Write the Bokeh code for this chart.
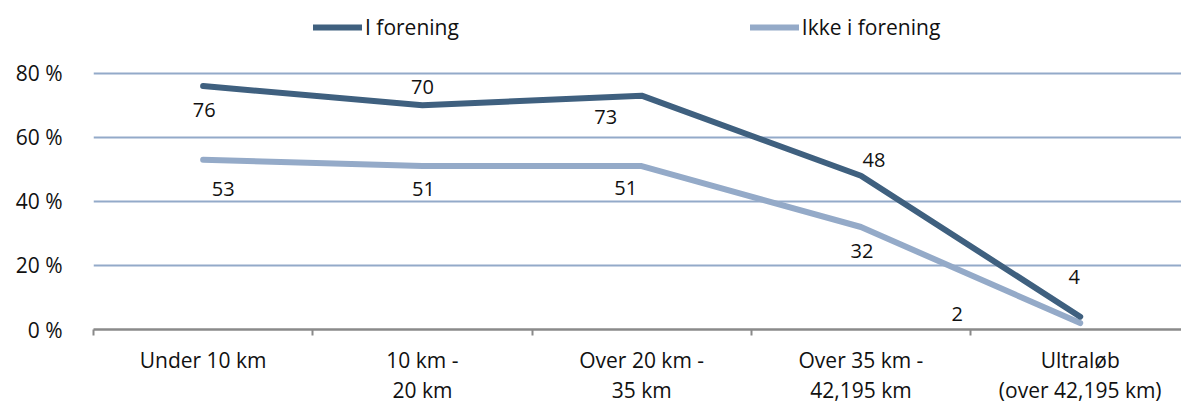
from bokeh.plotting import figure
from bokeh.models import (ColumnDataSource, FixedTicker, Legend, LegendItem)
from bokeh.embed import file_html
from bokeh.resources import INLINE
from bokeh.core.properties import value

# ---- data ----
categories = ["Under 10 km", "10 km -\n20 km", "Over 20 km -\n35 km",
              "Over 35 km -\n42,195 km", "Ultraløb\n(over 42,195 km)"]
i_forening = [76, 70, 73, 48, 4]
ikke_i_forening = [53, 51, 51, 32, 2]
y_ticks = [0, 20, 40, 60, 80]
y_tick_labels = ["0 %", "20 %", "40 %", "60 %", "80 %"]
series_names = ["I forening", "Ikke i forening"]

# label offsets (px, screen, y positive = down), separate style list
dark_dx = [1, 0, -36, 13, -6]
dark_dy = [24, -18, 21, -16, -40]
light_dx = [20, 1, -16, 1, -123]
light_dy = [29, 23, 22, 24, -9]

FONT = "Open Sans"
DARK = "#3f607f"
LIGHT = "#94aac8"
GRID = "#93aac9"
AXIS = "#8a8a8a"

xs = list(range(len(categories)))

p = figure(width=1181, height=407, output_backend="svg", toolbar_location=None,
           x_range=(-0.5, 4.462), y_range=(0, 102.7),
           min_border_left=93, min_border_right=0, min_border_top=0, min_border_bottom=77)
p.outline_line_color = None
p.background_fill_color = "white"
p.border_fill_color = "white"

# x axis
xa = p.xaxis[0]
xa.ticker = FixedTicker(ticks=xs, minor_ticks=[i - 0.5 for i in range(len(categories) + 1)])
xa.major_label_overrides = {i: c for i, c in enumerate(categories)}
xa.major_tick_out = 0
xa.major_tick_in = 0
xa.minor_tick_out = 6
xa.minor_tick_in = 0
xa.minor_tick_line_color = AXIS
xa.minor_tick_line_width = 2
xa.axis_line_color = AXIS
xa.axis_line_width = 2.5
xa.major_label_text_font = FONT
xa.major_label_text_font_size = "21px"
xa.major_label_text_color = "#111111"
xa.major_label_standoff = 10
xa.major_label_text_line_height = 1.1

# y axis
ya = p.yaxis[0]
ya.ticker = FixedTicker(ticks=y_ticks)
ya.major_label_overrides = {t: l for t, l in zip(y_ticks, y_tick_labels)}
ya.axis_line_color = None
ya.major_tick_line_color = None
ya.minor_tick_line_color = None
ya.major_label_standoff = 25
ya.major_label_text_font = FONT
ya.major_label_text_font_size = "21px"
ya.major_label_text_color = "#111111"

p.xgrid.grid_line_color = None
p.ygrid.ticker = FixedTicker(ticks=y_ticks[1:])
p.ygrid.grid_line_color = GRID
p.ygrid.grid_line_width = 2

src_d = ColumnDataSource(dict(x=xs, y=i_forening, t=[str(v) for v in i_forening],
                              dx=dark_dx, dy=dark_dy))
src_l = ColumnDataSource(dict(x=xs, y=ikke_i_forening, t=[str(v) for v in ikke_i_forening],
                              dx=light_dx, dy=light_dy))

r_l = p.line("x", "y", source=src_l, line_color=LIGHT, line_width=6,
             line_cap="round", line_join="round")
r_d = p.line("x", "y", source=src_d, line_color=DARK, line_width=6,
             line_cap="round", line_join="round")

for src in (src_d, src_l):
    p.text("x", "y", text="t", source=src, x_offset="dx", y_offset="dy",
           text_align="center", text_baseline="middle",
           text_font=value(FONT), text_font_size="20px", text_color="#111111")

legend = Legend(items=[LegendItem(label=series_names[0], renderers=[r_d]),
                       LegendItem(label=series_names[1], renderers=[r_l])],
                orientation="horizontal", location=(220, 288),
                padding=0, margin=0, spacing=291,
                border_line_color=None, background_fill_alpha=0,
                glyph_width=49, glyph_height=24, label_height=24,
                label_standoff=3, label_text_font=FONT,
                label_text_font_size="21px", label_text_color="#111111")
p.add_layout(legend, "center")

open("out.html", "w").write(file_html(p, INLINE))
